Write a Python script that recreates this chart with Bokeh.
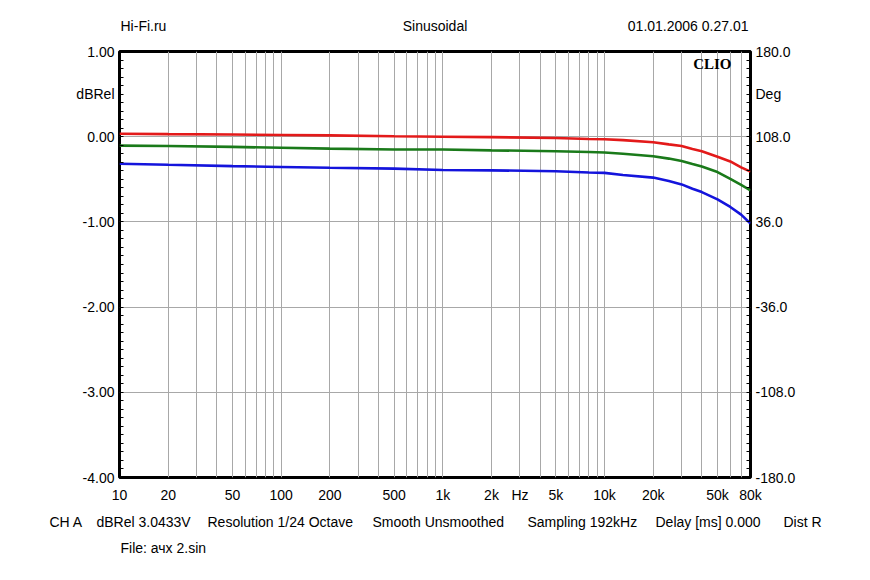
import numpy as np
from bokeh.plotting import figure
from bokeh.models import (FixedTicker, LinearAxis, Range1d, Label)
from bokeh.embed import file_html
from bokeh.resources import INLINE

# ---- data ----
freqs = [10, 20, 50, 100, 200, 500, 1000, 2000, 5000, 8000, 10000, 13000,
         20000, 25000, 30000, 35000, 40000, 50000, 60000, 70000, 80000]
red = [0.035, 0.03, 0.025, 0.02, 0.015, 0.005, 0.0, -0.005, -0.015, -0.027, -0.03,
       -0.04, -0.065, -0.09, -0.11, -0.145, -0.17, -0.235, -0.29, -0.36, -0.41]
green = [-0.105, -0.11, -0.12, -0.13, -0.14, -0.15, -0.15, -0.16, -0.17, -0.18, -0.185,
         -0.2, -0.23, -0.257, -0.285, -0.32, -0.35, -0.415, -0.495, -0.565, -0.63]
blue = [-0.317, -0.33, -0.345, -0.355, -0.365, -0.375, -0.39, -0.395, -0.405, -0.42,
        -0.425, -0.45, -0.48, -0.52, -0.56, -0.61, -0.65, -0.735, -0.825, -0.915, -1.02]

x_ticks = [10, 20, 50, 100, 200, 500, 1000, 2000, 3000, 5000, 10000, 20000, 50000, 80000]
x_labels = ["10", "20", "50", "100", "200", "500", "1k", "2k", "Hz", "5k", "10k", "20k", "50k", "80k"]
x_grid = [m * 10 ** d for d in range(1, 5) for m in range(1, 10) if m * 10 ** d <= 80000]

y_ticks = [-4, -3, -2, -1, 0, 0.5, 1]
y_labels = ["-4.00", "-3.00", "-2.00", "-1.00", "0.00", "dBRel", "1.00"]
y_grid = [-4, -3, -2, -1, 0, 1]

deg_ticks = [-180, -108, -36, 36, 108, 144, 180]
deg_labels = ["-180.0", "-108.0", "-36.0", "36.0", "108.0", "Deg", "180.0"]

header_left = "Hi-Fi.ru"
header_mid = "Sinusoidal"
header_right = "01.01.2006 0.27.01"
footer_items = ["CH A", "dBRel 3.0433V", "Resolution 1/24 Octave", "Smooth Unsmoothed",
                "Sampling 192kHz", "Delay [ms] 0.000", "Dist R"]
footer_x = [49, 96, 207, 372, 527, 655, 783]
file_line = "File: ачх 2.sin"

FONT = "Liberation Sans"
W = 854
HEAD_H = 41
FOOT_H = 57


def blank(height):
    f = figure(width=W, height=height, x_range=Range1d(0, W), y_range=Range1d(height, 0),
               min_border=0, output_backend="svg", toolbar_location=None,
               x_axis_location=None, y_axis_location=None,
               background_fill_color="white", border_fill_color="white")
    f.grid.visible = False
    f.outline_line_color = None
    return f


def lab(fig, text, x, y, align="left", size="14px", font=FONT, style="normal", units="data"):
    fig.add_layout(Label(x=x, y=y, x_units=units, y_units=units, text=text,
                         text_font=font, text_font_size=size, text_font_style=style,
                         text_align=align, text_baseline="middle", text_color="black"))


# ---- header ----
head = blank(HEAD_H)
lab(head, header_left, 120, 25)
lab(head, header_mid, 434.5, 25, align="center")
lab(head, header_right, 748, 25, align="right")

# ---- main chart ----
p = figure(x_axis_type="log", x_range=(10, 80000), y_range=(-4, 1),
           frame_width=631, frame_height=426,
           min_border_left=119, min_border_right=104, min_border_top=10, min_border_bottom=30,
           output_backend="svg", toolbar_location=None,
           background_fill_color="white", border_fill_color="white")

p.outline_line_color = "black"
p.outline_line_width = 3
p.outline_line_alpha = 1

p.xgrid.ticker = FixedTicker(ticks=x_grid)
p.ygrid.ticker = FixedTicker(ticks=y_grid)
for g in (p.xgrid, p.ygrid):
    g.grid_line_color = "#a8a8a8"
    g.grid_line_width = 1

xa = p.xaxis[0]
xa.ticker = FixedTicker(ticks=x_ticks)
xa.major_label_overrides = {t: l for t, l in zip(x_ticks, x_labels)}
xa.axis_line_color = None
xa.major_tick_in = 0
xa.major_tick_out = 0
xa.minor_tick_in = 0
xa.minor_tick_out = 0
xa.major_label_standoff = 9
xa.major_label_text_font = FONT
xa.major_label_text_font_size = "14px"
xa.major_label_text_color = "black"

minor = [round(v, 2) for v in np.arange(-4, 1.0001, 0.1)]
ya = p.yaxis[0]
ya.ticker = FixedTicker(ticks=y_ticks, minor_ticks=minor)
ya.major_label_overrides = {t: l for t, l in zip(y_ticks, y_labels)}
ya.axis_line_color = None
ya.major_tick_in = 0
ya.major_tick_out = 0
ya.minor_tick_in = 4
ya.minor_tick_out = 0
ya.minor_tick_line_color = "black"
ya.major_label_standoff = 5
ya.major_label_text_font = FONT
ya.major_label_text_font_size = "14px"
ya.major_label_text_color = "black"

p.extra_y_ranges = {"deg": Range1d(-180, 180)}
ra = LinearAxis(y_range_name="deg")
deg_minor = [round(v, 1) for v in np.arange(-180, 180.001, 7.2)]
ra.ticker = FixedTicker(ticks=deg_ticks, minor_ticks=deg_minor)
ra.major_label_overrides = {t: l for t, l in zip(deg_ticks, deg_labels)}
ra.axis_line_color = None
ra.major_tick_in = 0
ra.major_tick_out = 0
ra.minor_tick_in = 4
ra.minor_tick_out = 0
ra.minor_tick_line_color = "black"
ra.major_label_standoff = 5
ra.major_label_text_font = FONT
ra.major_label_text_font_size = "14px"
ra.major_label_text_color = "black"
p.add_layout(ra, "right")

p.line(freqs, red, line_color="#e31a1a", line_width=2.6)
p.line(freqs, green, line_color="#1a7a1a", line_width=2.6)
p.line(freqs, blue, line_color="#1414dc", line_width=2.6)

lab(p, "CLIO", 612, 414, align="right", size="15px", font="Liberation Serif",
    style="bold", units="screen")

# ---- footer ----
foot = blank(FOOT_H)
for t, x in zip(footer_items, footer_x):
    lab(foot, t, x, 14)
lab(foot, file_line, 120, 40)

open("out.html", "w").write(file_html([head, p, foot], INLINE))
